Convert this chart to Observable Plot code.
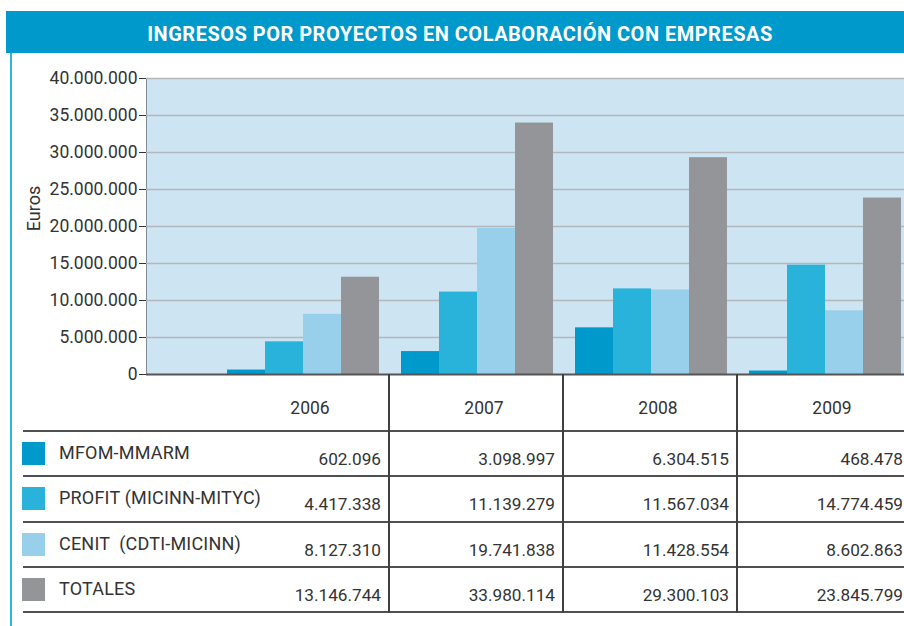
<!DOCTYPE html>
<html><head><meta charset="utf-8">
<script src="https://cdn.jsdelivr.net/npm/d3@7"></script>
<script src="https://cdn.jsdelivr.net/npm/@observablehq/plot@0.6"></script>
<style>
body{margin:0;background:#fff;font-family:Roboto,"Noto Sans",sans-serif;color:#333;}
#page{position:relative;width:904px;height:626px;overflow:hidden;background:#fff;}
#title{position:absolute;left:6px;top:11px;width:888px;padding-left:10px;height:42px;background:#0099cb;color:#fff;font-weight:700;font-size:20px;line-height:46px;text-align:center;letter-spacing:0.5px;}
#lborder{position:absolute;left:10px;top:53px;width:2px;height:573px;background:#2cb5e2;}
#chart{position:absolute;left:0;top:60px;}
#table{position:absolute;left:0;top:0;}
.hl{position:absolute;height:2px;background:#505050;}
.vl{position:absolute;width:2px;background:#404040;}
.txt{position:absolute;color:#333;white-space:pre;line-height:20px;}
.sw{position:absolute;width:23px;height:23px;}
</style></head>
<body>
<div id="page">
  <div id="title">INGRESOS POR PROYECTOS EN COLABORACIÓN CON EMPRESAS</div>
  <div id="lborder"></div>
  <div id="chart"></div>
  <div id="table"></div>
</div>
<script>
const years = ["2006", "2007", "2008", "2009"];
const seriesNames = ["MFOM-MMARM", "PROFIT (MICINN-MITYC)", "CENIT  (CDTI-MICINN)", "TOTALES"];
const seriesColors = ["#0099cb", "#29b3da", "#98d0eb", "#939598"];
const mfom = [602096, 3098997, 6304515, 468478];
const profit = [4417338, 11139279, 11567034, 14774459];
const cenit = [8127310, 19741838, 11428554, 8602863];
const totales = [13146744, 33980114, 29300103, 23845799];
const yTicks = [0, 5000000, 10000000, 15000000, 20000000, 25000000, 30000000, 35000000, 40000000];
const yLabel = "Euros";

const seriesValues = [mfom, profit, cenit, totales];
const locale = d3.formatLocale({decimal: ",", thousands: ".", grouping: [3], currency: ["", "€"]});
const fmt = locale.format(",d");

const step = 174, pad = 12, barW = 38;
const barMarks = seriesValues.map((vals, i) =>
  Plot.barY(years.map((y, j) => ({year: y, value: vals[j]})), {
    x: "year", y: "value", fill: seriesColors[i],
    insetLeft: pad + i * barW, insetRight: step - pad - (i + 1) * barW
  })
);

const chart = Plot.plot({
  width: 904, height: 330,
  marginTop: 18, marginBottom: 16, marginLeft: 146, marginRight: 0,
  style: {fontFamily: "Roboto, sans-serif", fontSize: "17.5px", color: "#333", background: "transparent", overflow: "visible"},
  x: {type: "band", domain: years, range: [215, 215 + 4 * step], padding: 0, axis: null},
  y: {domain: [0, 40000000], ticks: yTicks, tickFormat: fmt, tickSize: 7, tickPadding: 2,
      line: true, label: null},
  marks: [
    Plot.frame({fill: "#cde5f2", stroke: null}),
    Plot.ruleY(yTicks.filter(d => d > 0), {stroke: "#b3b7ba", strokeWidth: 1.6}),
    ...barMarks,
    Plot.ruleY([0], {stroke: "#555", strokeWidth: 2}),
    Plot.text([yLabel], {frameAnchor: "left", rotate: -90, dx: -119, dy: -18, lineAnchor: "top",
      textAnchor: "middle", fontSize: 18, fill: "#333"})
  ]
});
document.getElementById("chart").appendChild(chart);

// table below the chart
const xs = chart.scale("x");
const colLeft = years.map((y, j) => xs.range[0] + j * step);
const table = document.getElementById("table");
function add(cls, css, text) {
  const d = document.createElement("div");
  d.className = cls;
  Object.assign(d.style, css);
  if (text != null) d.textContent = text;
  table.appendChild(d);
  return d;
}
const top0 = 374, headBottom = 431, rowH = 45.3;
const rowTops = seriesNames.map((s, i) => headBottom + i * rowH);
const bottom = headBottom + seriesNames.length * rowH;
[headBottom, ...rowTops.map(t => t + rowH)].forEach(y => add("hl", {left: "23px", width: "881px", top: (y - 1) + "px"}));
colLeft.slice(1).forEach(x => add("vl", {left: (x - 1) + "px", top: top0 + "px", height: (bottom - top0 + 1) + "px"}));
years.forEach((y, j) => {
  add("txt", {left: (colLeft[j] + 8) + "px", width: step + "px", textAlign: "center", top: "398px", fontSize: "17.5px"}, y);
});
seriesNames.forEach((s, i) => {
  const t = rowTops[i];
  add("sw", {left: "22px", top: (t + 11) + "px", background: seriesColors[i]});
  add("txt", {left: "59px", top: (t + 12) + "px", fontSize: "18px", letterSpacing: "0.2px"}, s);
  years.forEach((y, j) => {
    const right = colLeft[j] + step - 8;
    add("txt", {left: (right - 150) + "px", width: "150px", textAlign: "right", top: (t + 18) + "px", fontSize: "17.2px"}, fmt(seriesValues[i][j]));
  });
});
</script>
</body></html>
